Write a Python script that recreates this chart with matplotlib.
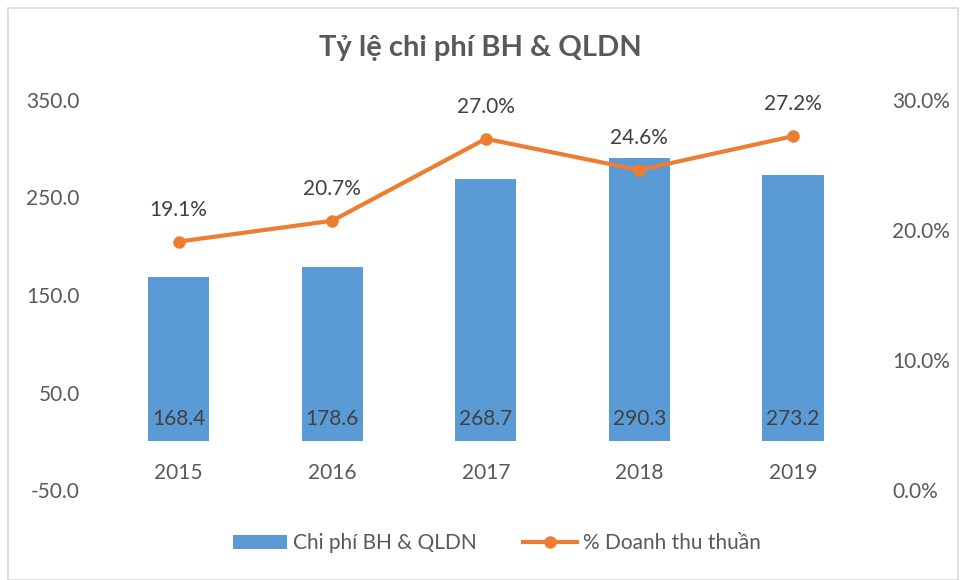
import matplotlib.pyplot as plt
from matplotlib.patches import Rectangle

years = ["2015", "2016", "2017", "2018", "2019"]
chi_phi = [168.4, 178.6, 268.7, 290.3, 273.2]
pct_dt = [19.1, 20.7, 27.0, 24.6, 27.2]

BAR = "#5B9BD5"
LINE = "#ED7D31"
TXT = "#595959"
FS = 15
plt.rcParams["font.family"] = ["Lato", "DejaVu Sans"]

fig = plt.figure(figsize=(9.61, 5.80), dpi=100)
ax = fig.add_axes([0.106, 0.155, 0.799, 0.673])
ax2 = ax.twinx()

x = list(range(len(years)))
bars = ax.bar(x, chi_phi, width=0.40, color=BAR, label="Chi phí BH & QLDN", zorder=2)
ax.set_ylim(-50, 350)
ax.set_yticks([-50, 50, 150, 250, 350])
ax.set_yticklabels([f"{v:.1f}" for v in [-50, 50, 150, 250, 350]])
ax.set_xlim(-0.5, len(years) - 0.5)
ax.set_xticks([])

for xi, v in zip(x, chi_phi):
    ax.annotate(f"{v:.1f}", (xi, 0), xytext=(0, 16), textcoords="offset points",
                ha="center", va="center", fontsize=FS, color="#404040")
    ax.annotate(years[xi], (xi, 0), xytext=(0, -23), textcoords="offset points",
                ha="center", va="center", fontsize=FS, color=TXT)

ax2.plot(x, pct_dt, color=LINE, lw=3, marker="o", ms=8, label="% Doanh thu thuần", zorder=3)
ax2.set_ylim(0, 30)
ax2.set_yticks([0, 10, 20, 30])
ax2.set_yticklabels([f"{v:.1f}%" for v in [0, 10, 20, 30]])
for xi, v in zip(x, pct_dt):
    ax2.annotate(f"{v:.1f}%", (xi, v), xytext=(0, 23), textcoords="offset points",
                 ha="center", va="center", fontsize=FS, color="#404040")

for a in (ax, ax2):
    for s in a.spines.values():
        s.set_visible(False)
    a.tick_params(length=0, labelsize=FS, labelcolor=TXT)
ax.tick_params(axis="y", pad=16)
ax2.tick_params(axis="y", pad=16)

fig.text(0.5, 0.918, "Tỷ lệ chi phí BH & QLDN", ha="center", va="center",
         fontsize=21, fontweight="bold", color=TXT)

h1, l1 = ax.get_legend_handles_labels()
h2, l2 = ax2.get_legend_handles_labels()
fig.legend(h1 + h2, l1 + l2, loc="center", bbox_to_anchor=(0.517, 0.063), ncol=2,
           frameon=False, fontsize=FS, labelcolor=TXT, handlelength=2.6,
           columnspacing=2.2, handletextpad=0.3)

fig.patches.append(Rectangle((8 / 961, 0.0), 950 / 961, 572 / 580, transform=fig.transFigure,
                             fill=False, edgecolor="#D9D9D9", lw=1.2))

fig.savefig("out.png", dpi=100)
